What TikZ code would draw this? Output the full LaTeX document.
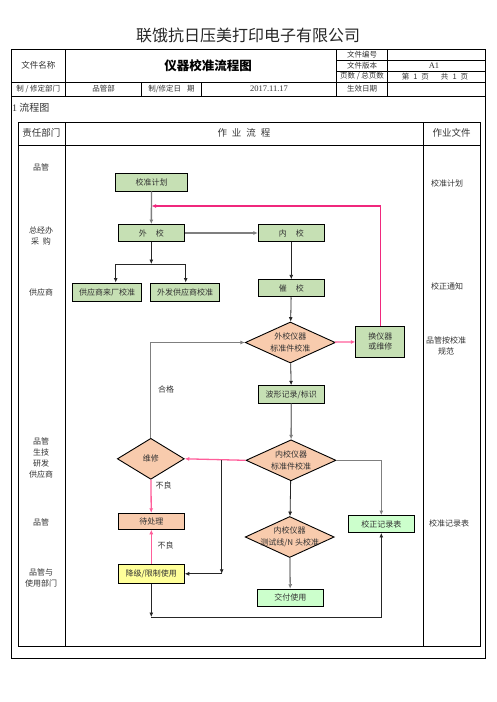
\documentclass[tikz,border=0pt]{standalone}
\usepackage{fontspec}
\setmainfont{Noto Sans CJK SC}
\newfontfamily\numfont{Liberation Serif}
\usetikzlibrary{arrows.meta,shapes.geometric}

\definecolor{boxgreen}{HTML}{C6E0B4}
\definecolor{mintgreen}{HTML}{CCFFCC}
\definecolor{peach}{HTML}{F8CBAD}
\definecolor{paleyellow}{HTML}{FFFF99}
\definecolor{rosered}{HTML}{F0287D}
\definecolor{rosepink}{HTML}{FF5E9A}
\definecolor{linegray}{HTML}{7F7F7F}

\tikzset{
  >={Latex[length=4.5pt,width=4pt]},
  lbl/.style={font=\fontsize{8}{11}\selectfont, text=black!80, align=center, inner sep=0pt},
  stepbox/.style={draw, line width=0.9pt, fill=boxgreen, minimum width=66pt, minimum height=17pt,
    inner sep=0pt, font=\fontsize{8}{10}\selectfont, text=black!80, align=center},
  checkdia/.style={diamond, draw, line width=0.9pt, fill=peach, shape aspect=2.2, minimum width=90pt,
    minimum height=41pt, inner sep=0pt, font=\fontsize{8}{12}\selectfont, text=black!80, align=center},
  frame/.style={line width=0.8pt},
  gline/.style={draw=linegray, line width=1.3pt},
  bline/.style={draw=black!85, line width=0.8pt},
  pline/.style={draw=rosepink, line width=1.3pt},
}

\begin{document}
\begin{tikzpicture}[x=1pt,y=-1pt]
	\useasboundingbox (0,0) rectangle (496,702);
	\node[font=\fontsize{16}{16}\selectfont, text=black!85] (company) at (248,35) {联饿抗日压美打印电子有限公司};
	
	% header table
	\draw[frame] (11,49) rectangle (485,658);
	\draw[frame] (11,82) -- (485,82) (11,96) -- (485,96) (336.5,60) -- (485,60) (336.5,71) -- (485,71);
	\draw[frame] (65.5,49) -- (65.5,96) (141.5,82) -- (141.5,96) (201.5,82) -- (201.5,96)
		(336.5,49) -- (336.5,96) (387.5,49) -- (387.5,96);
	\node[lbl, font=\fontsize{8.5}{10}\selectfont] (docname) at (38.3,65.5) {文件名称};
	\node[font=\fontsize{12.5}{14}\selectfont\bfseries, inner sep=0pt] (doctitle) at (208,66) {仪器校准流程图};
	\node[lbl, font=\fontsize{7.5}{9}\selectfont] (docno) at (362,54.5) {文件编号};
	\node[lbl, font=\fontsize{7.5}{9}\selectfont] (docver) at (362,65.5) {文件版本};
	\node[lbl, font=\fontsize{7.5}{9}\selectfont] (docpage) at (362,76.5) {页数 / 总页数};
	\node[lbl, font=\fontsize{7.5}{9}\selectfont] (docdate) at (362,89) {生效日期};
	\node[lbl, font=\numfont\fontsize{8.5}{10}\selectfont] (verval) at (434,65.5) {A1};
	\node[lbl, font=\fontsize{7.5}{9}\selectfont] (pageval) at (435,76.5)
		{第\hspace{4pt}1\hspace{4pt}页\hspace{12pt}共\hspace{4pt}1\hspace{4pt}页};
	\node[lbl, font=\fontsize{7.5}{9}\selectfont] (deptkey) at (38.3,89) {制 / 修定部门};
	\node[lbl, font=\fontsize{7.5}{9}\selectfont] (deptval) at (103.5,89) {品管部};
	\node[lbl, font=\fontsize{7.5}{9}\selectfont] (datekey) at (171.5,89) {制/修定日\hspace{6pt}期};
	\node[lbl, font=\numfont\fontsize{8.5}{10}\selectfont] (dateval) at (269,89) {2017.11.17};
	\node[lbl, anchor=west, font=\fontsize{10}{11}\selectfont] (section) at (12,108) {{\numfont 1} 流程图};
	
	% flow table
	\draw[frame] (18,122) rectangle (480,646);
	\draw[frame] (18,145) -- (480,145) (65.5,122) -- (65.5,646) (423,122) -- (423,646);
	\node[lbl, font=\fontsize{9.5}{11}\selectfont] (colowner) at (41.5,133) {责任部门};
	\node[lbl, font=\fontsize{9.5}{11}\selectfont] (colflow) at (244,133) {作\hspace{5pt}业\hspace{5pt}流\hspace{5pt}程};
	\node[lbl, font=\fontsize{9.5}{11}\selectfont] (colfile) at (451.5,133) {作业文件};
	
	% departments
	\node[lbl] (own1) at (41,167) {品管};
	\node[lbl] (own2) at (41,236) {总经办\\采\hspace{4pt}购};
	\node[lbl] (own3) at (41,292) {供应商};
	\node[lbl] (own4) at (41,458) {品管\\生技\\研发\\供应商};
	\node[lbl] (own5) at (41,522) {品管};
	\node[lbl] (own6) at (41,577.5) {品管与\\使用部门};
	
	% documents
	\node[lbl] (file1) at (447,183) {校准计划};
	\node[lbl] (file2) at (447,286) {校正通知};
	\node[lbl] (file3) at (446,345.5) {品管按校准\\规范};
	\node[lbl] (file4) at (449,523) {校准记录表};
	
	% flow steps
	\node[stepbox, minimum width=72pt, minimum height=18pt] (plan) at (151.5,182) {校准计划};
	\node[stepbox] (ext) at (151.3,233) {外\hspace{9pt}校};
	\node[stepbox] (int) at (291.3,233) {内\hspace{9pt}校};
	\node[stepbox, minimum width=69pt, minimum height=18pt] (vendorin) at (107.2,292) {供应商来厂校准};
	\node[stepbox, minimum width=69pt, minimum height=18pt] (vendorout) at (185,292) {外发供应商校准};
	\node[stepbox] (urge) at (291.3,288.3) {催\hspace{9pt}校};
	\node[checkdia] (extchk) at (290.3,342.5) {外校仪器\\标准件校准};
	\node[stepbox, minimum width=49pt, minimum height=31pt] (swap) at (380.3,341.7) {换仪器\\或维修};
	\node[stepbox, minimum height=17.5pt] (wave) at (291.3,394.5) {波形记录/标识};
	\node[checkdia] (intchk) at (291,460.3) {内校仪器\\标准件校准};
	\node[checkdia, minimum width=67pt] (repair) at (150.8,458.8) {维修};
	\node[stepbox, fill=peach, minimum height=16pt] (hold) at (151.3,521.3) {待处理};
	\node[stepbox, fill=paleyellow, minimum height=19pt] (degrade) at (151.3,573.8) {降级/限制使用};
	\node[checkdia, minimum width=89pt, inner sep=-5pt] (linechk) at (289.7,537) {内校仪器\\测试线/N 头校准};
	\node[stepbox, fill=mintgreen] (record) at (381.3,524) {校正记录表};
	\node[stepbox, fill=mintgreen] (deliver) at (290.3,597.7) {交付使用};
	\node[lbl] (pass) at (166,389) {合格};
	\node[lbl] (ng1) at (163.5,485.7) {不良};
	\node[lbl] (ng2) at (165.7,545.7) {不良};
	
	% connectors
	\coordinate (fbend) at (151.5,206);
	\coordinate (split) at (151.3,264);
	\coordinate (splitl) at (115.7,264);
	\coordinate (splitr) at (185.7,264);
	\coordinate (tap) at (221.7,460.3);
	\coordinate (tapend) at (221.7,573.8);
	\coordinate (low) at (151.3,617);
	\draw[gline,->] (plan) -- (ext);
	\draw[draw=rosered, line width=1.1pt, ->] (swap.north) |- (fbend);
	\draw[gline,->] (ext) -- (int);
	\draw[bline,->] (ext) -- (split);
	\draw[bline] (splitl) -- (splitr);
	\draw[bline,->] (splitl) -- (splitl |- vendorin.north);
	\draw[bline,->] (splitr) -- (splitr |- vendorout.north);
	\draw[bline,->] (int) -- (urge);
	\draw[bline,->] (urge) -- (extchk);
	\draw[pline,->] (extchk) -- (swap);
	\draw[bline,->] (extchk) -- (wave);
	\draw[gline,->] (wave) -- (intchk);
	\draw[gline,->] (repair.north) |- (extchk.west);
	\draw[pline,->] (intchk.west) -- (repair.east);
	\draw[bline,->] (tap) -- (tapend);
	\draw[bline,->] (tapend) -- (degrade.east);
	\draw[pline,->] (repair) -- (hold);
	\draw[pline,->] (degrade) -- (hold);
	\draw[bline,->] (degrade) -- (low);
	\draw[bline,->] (low) -| (record.south);
	\draw[gline,->] (intchk.east) -| (record.north);
	\draw[bline,->] (intchk) -- (linechk);
	\draw[gline,->] (linechk) -- (deliver);
\end{tikzpicture}
\end{document}
